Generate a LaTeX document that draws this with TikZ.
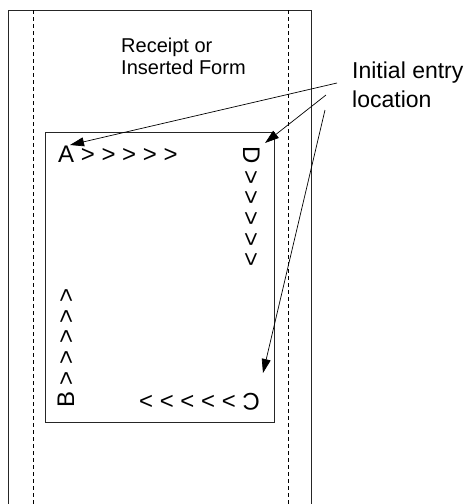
\documentclass[tikz,border=0pt]{standalone}
\usepackage{fontspec}
\setmainfont{Liberation Sans}
\usetikzlibrary{arrows.meta}
\begin{document}
\begin{tikzpicture}[x={(1pt,0)},y={(0,-1pt)},
  frame/.style={draw=black!85,line width=0.8pt},
  fold/.style={draw=black,line width=0.7pt,dash pattern=on 4pt off 3pt},
  letters/.style={inner sep=0pt,anchor=base west,font=\fontsize{24}{27}\selectfont},
  lbl/.style={inner sep=0pt,anchor=base west,align=left},
  pointer/.style={draw=black,line width=0.7pt,-{Triangle[length=14pt,width=9pt]}}]
\useasboundingbox (0,0) rectangle (471,504);
\fill[white] (0,0) rectangle (471,504);
% outer strip
\draw[frame] (8,504) -- (8,10) -- (311,10) -- (311,504);
\draw[fold] (33,10) -- (33,504);
\draw[fold] (288,10) -- (288,504);
% inner form
\draw[frame] (45,132) rectangle (274,422);
% texts (base anchor = baseline of last line)
\node[lbl,font=\fontsize{20}{22}\selectfont] (form) at (121,74) {Receipt or\\Inserted Form};
\node[lbl,font=\fontsize{23}{29}\selectfont] (init) at (352,107) {Initial entry\\location};
\node[letters] (A) at (58,162) {A > > > > >};
\node[letters,rotate=-90] (D) at (243,146) {D > > > > >};
\node[letters,rotate=180] (C) at (260,393) {C > > > > >};
\node[letters,rotate=90] (B) at (74,408) {B > > > > >};
% pointers
\coordinate (s1) at (337,83);
\coordinate (s2) at (326,95);
\coordinate (s3) at (325,110);
\coordinate (tA) at (70,145);
\coordinate (tD) at (265,143);
\coordinate (tC) at (263,373);
\draw[pointer] (s1) -- (tA);
\draw[pointer] (s2) -- (tD);
\draw[pointer] (s3) -- (tC);
\end{tikzpicture}
\end{document}
